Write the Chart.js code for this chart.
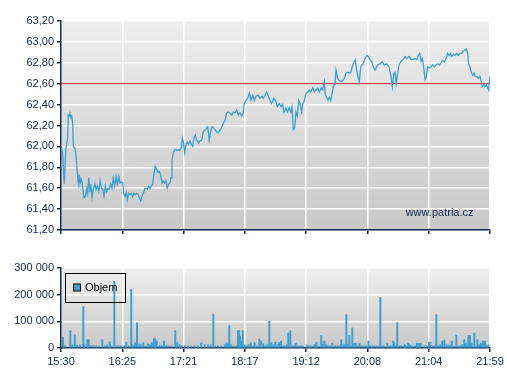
<!DOCTYPE html>
<html>
<head>
<meta charset="utf-8">
<script src="https://cdn.jsdelivr.net/npm/chart.js@4/dist/chart.umd.min.js"></script>
<style>
  html, body { margin: 0; padding: 0; background: #ffffff; }
  #wrap { position: relative; width: 507px; height: 380px; overflow: hidden; }
  #priceCanvas { position: absolute; left: 0; top: 0; }
  #volumeCanvas { position: absolute; left: 0; top: 250px; }
</style>
</head>
<body>
<div id="wrap">
  <canvas id="priceCanvas" width="507" height="248"></canvas>
  <canvas id="volumeCanvas" width="507" height="130"></canvas>
</div>
<script>
// ---- data (minutes since 15:30) ----
const timeLabels = ['15:30', '16:25', '17:21', '18:17', '19:12', '20:08', '21:04', '21:59'];
const sessionMinutes = 390;
const priceTicks = [61.2, 61.4, 61.6, 61.8, 62.0, 62.2, 62.4, 62.6, 62.8, 63.0, 63.2];
const volumeTicks = [0, 100000, 200000, 300000];
const referencePrice = 62.6;
const watermarkText = 'www.patria.cz';
const volumeLabel = 'Objem';

const pricePoints = [
  [0, 62.00], [1.5, 61.93], [3.0, 61.64], [4.3, 61.97], [5.2, 62.03], [6.1, 62.08], [6.6, 62.30], [7.5, 62.29],
  [8.2, 62.32], [9.1, 62.27], [9.7, 62.30], [10.6, 62.22], [11.2, 62.00], [12.7, 61.98], [13.6, 61.92], [14.5, 61.79],
  [15.7, 61.65], [16.6, 61.73], [17.3, 61.64], [18.2, 61.69], [19.4, 61.65], [20.9, 61.51], [22.1, 61.52], [23.4, 61.60],
  [24.3, 61.55], [25.2, 61.70], [26.4, 61.57], [27.0, 61.64], [28.2, 61.51], [29.4, 61.59], [30.9, 61.64], [31.8, 61.59],
  [33.0, 61.62], [34.3, 61.57], [35.5, 61.67], [36.6, 61.60], [37.9, 61.59], [39.1, 61.52], [40.3, 61.62], [41.5, 61.57],
  [42.7, 61.60], [43.9, 61.59], [45.2, 61.64], [46.4, 61.60], [47.5, 61.70], [48.8, 61.62], [50.0, 61.71], [51.2, 61.64],
  [52.5, 61.71], [53.6, 61.65], [54.8, 61.66], [56.1, 61.65], [57.0, 61.55], [58.2, 61.52], [59.4, 61.56], [60.3, 61.49],
  [61.5, 61.55], [62.7, 61.54], [63.9, 61.55], [65.2, 61.52], [66.4, 61.55], [67.5, 61.54], [68.8, 61.55], [70.0, 61.54],
  [71.2, 61.51], [72.5, 61.48], [73.6, 61.52], [74.8, 61.55], [76.1, 61.59], [77.3, 61.60], [78.5, 61.59], [79.7, 61.62],
  [80.9, 61.60], [82.1, 61.62], [83.4, 61.64], [84.5, 61.73], [85.7, 61.81], [87.0, 61.78], [88.2, 61.75], [89.4, 61.76],
  [90.6, 61.73], [91.8, 61.65], [93.0, 61.67], [94.3, 61.65], [95.5, 61.67], [96.6, 61.60], [97.9, 61.64], [99.1, 61.65],
  [100.0, 61.70], [100.9, 61.86], [102.1, 61.94], [103.4, 61.97], [104.5, 61.97], [105.7, 61.96], [107.0, 61.97], [108.2, 61.96],
  [109.4, 61.99], [110.3, 62.08], [111.2, 62.04], [112.5, 61.94], [113.6, 62.02], [114.8, 62.04], [116.1, 62.02], [117.3, 62.05],
  [118.5, 62.02], [119.7, 62.00], [120.9, 62.08], [122.1, 62.11], [123.4, 62.06], [125.2, 62.03], [125.7, 62.05], [127.9, 62.06],
  [129.4, 62.14], [131.5, 62.16], [133.4, 62.19], [134.8, 62.06], [136.4, 62.16], [137.5, 62.19], [139.4, 62.17], [141.5, 62.14],
  [143.0, 62.13], [145.5, 62.17], [147.5, 62.22], [149.1, 62.25], [150.6, 62.32], [152.1, 62.33], [153.6, 62.32], [155.2, 62.30],
  [156.6, 62.33], [158.2, 62.32], [159.7, 62.35], [161.2, 62.30], [162.7, 62.32], [164.3, 62.29], [165.7, 62.32], [166.6, 62.41],
  [168.2, 62.44], [169.7, 62.46], [171.2, 62.51], [172.7, 62.44], [174.3, 62.49], [175.7, 62.44], [177.3, 62.48], [179.4, 62.49],
  [180.9, 62.46], [182.5, 62.48], [183.9, 62.46], [185.5, 62.49], [187.0, 62.52], [188.5, 62.48], [190.0, 62.44], [191.5, 62.41],
  [193.6, 62.46], [195.5, 62.43], [196.6, 62.38], [198.5, 62.41], [200.0, 62.38], [201.5, 62.40], [202.7, 62.33], [204.5, 62.37],
  [205.7, 62.33], [207.5, 62.37], [208.8, 62.33], [210.0, 62.38], [211.2, 62.16], [212.5, 62.18], [213.6, 62.33], [214.8, 62.29],
  [216.1, 62.44], [217.3, 62.41], [218.8, 62.33], [219.7, 62.40], [221.2, 62.44], [222.7, 62.51], [224.3, 62.52], [225.7, 62.54],
  [227.0, 62.52], [228.8, 62.56], [230.3, 62.52], [231.8, 62.54], [233.4, 62.56], [234.8, 62.52], [236.4, 62.56], [237.9, 62.54],
  [239.4, 62.62], [240.3, 62.49], [241.5, 62.47], [242.7, 62.44], [243.9, 62.47], [245.2, 62.44], [246.4, 62.51], [247.5, 62.57],
  [249.1, 62.60], [250.0, 62.73], [251.5, 62.65], [253.0, 62.63], [254.5, 62.62], [256.1, 62.63], [257.5, 62.65], [259.1, 62.70],
  [260.6, 62.71], [262.1, 62.70], [263.6, 62.71], [265.2, 62.78], [266.4, 62.81], [267.5, 62.83], [268.8, 62.73], [270.0, 62.67],
  [271.2, 62.62], [272.5, 62.76], [273.6, 62.78], [274.8, 62.79], [276.4, 62.84], [277.9, 62.87], [279.4, 62.86], [280.9, 62.83],
  [282.5, 62.81], [283.9, 62.76], [285.5, 62.73], [287.9, 62.78], [290.0, 62.79], [292.1, 62.81], [293.9, 62.78], [296.1, 62.79],
  [298.2, 62.76], [300.0, 62.67], [301.2, 62.57], [302.5, 62.70], [303.6, 62.71], [304.8, 62.60], [306.1, 62.70], [307.3, 62.78],
  [309.1, 62.81], [310.9, 62.83], [312.7, 62.86], [314.5, 62.84], [316.4, 62.86], [318.2, 62.83], [320.0, 62.83], [321.8, 62.84],
  [323.4, 62.83], [324.8, 62.87], [326.1, 62.89], [327.3, 62.81], [328.5, 62.84], [329.7, 62.76], [330.9, 62.64], [332.1, 62.67],
  [333.4, 62.76], [334.8, 62.75], [336.4, 62.76], [337.9, 62.78], [339.4, 62.76], [340.9, 62.78], [342.5, 62.79], [343.9, 62.78],
  [345.5, 62.80], [347.0, 62.82], [348.5, 62.81], [350.0, 62.84], [351.5, 62.89], [352.7, 62.87], [353.9, 62.89], [355.2, 62.86],
  [356.6, 62.88], [358.2, 62.87], [359.7, 62.89], [361.2, 62.87], [362.7, 62.89], [364.3, 62.89], [365.7, 62.91], [367.3, 62.92],
  [368.5, 62.93], [369.7, 62.89], [370.6, 62.79], [371.8, 62.76], [373.0, 62.71], [374.3, 62.68], [375.5, 62.70], [376.6, 62.67],
  [377.9, 62.67], [379.4, 62.65], [380.9, 62.67], [382.1, 62.62], [383.0, 62.57], [384.3, 62.59], [385.5, 62.57], [386.6, 62.59],
  [387.9, 62.56], [388.8, 62.54], [389.7, 62.64], [390.0, 62.62]
];

const volumePoints = [
  [1.8, 40000], [3.9, 10000], [8.5, 65000], [10.3, 12000], [12.5, 50000], [14.8, 10000], [17.5, 12000], [20.3, 155000],
  [21.5, 12000], [23.9, 31000], [25.2, 31000], [27.5, 10000], [29.7, 8000], [32.1, 8000], [34.3, 8000], [37.5, 31000],
  [39.7, 8000], [42.1, 12000], [44.3, 23000], [45.7, 8000], [48.5, 250000], [50.3, 8000], [52.5, 8000], [54.8, 8000],
  [57.3, 8000], [59.4, 22000], [61.5, 8000], [63.9, 221000], [65.7, 12000], [67.5, 20000], [69.1, 94000], [71.2, 16000],
  [73.0, 12000], [74.8, 20000], [76.6, 8000], [79.1, 16000], [80.9, 12000], [82.7, 20000], [84.5, 37000], [85.7, 34000],
  [87.0, 26000], [89.7, 10000], [91.8, 8000], [93.6, 26000], [95.7, 10000], [97.9, 8000], [100.3, 8000], [103.9, 65000],
  [105.7, 20000], [107.9, 12000], [110.0, 8000], [112.5, 8000], [115.5, 8000], [118.5, 8000], [121.5, 8000], [124.5, 8000],
  [127.5, 20000], [130.6, 12000], [133.6, 12000], [136.1, 12000], [138.5, 127000], [140.3, 8000], [142.7, 8000], [145.7, 8000],
  [148.8, 12000], [150.6, 20000], [151.8, 16000], [153.0, 84000], [154.8, 12000], [157.0, 8000], [159.1, 8000], [160.9, 65000],
  [161.8, 65000], [162.7, 43000], [163.6, 26000], [165.2, 65000], [167.0, 12000], [168.8, 8000], [170.6, 12000], [172.5, 20000],
  [174.3, 8000], [176.1, 20000], [177.9, 8000], [180.3, 34000], [182.1, 26000], [183.9, 16000], [185.7, 8000], [187.5, 12000],
  [189.4, 102000], [191.2, 20000], [193.0, 12000], [194.8, 22000], [196.9, 12000], [198.2, 20000], [200.0, 26000], [201.8, 8000],
  [203.6, 8000], [205.2, 12000], [206.6, 56000], [208.5, 65000], [210.3, 8000], [212.1, 8000], [213.4, 18000], [215.7, 8000],
  [217.5, 8000], [219.4, 8000], [223.4, 12000], [225.5, 8000], [227.3, 8000], [229.4, 8000], [230.9, 14000], [232.1, 22000],
  [233.9, 8000], [236.6, 47000], [237.9, 14000], [239.4, 26000], [241.2, 12000], [243.0, 8000], [244.8, 8000], [246.6, 18000],
  [249.1, 8000], [251.2, 8000], [253.0, 8000], [254.8, 31000], [256.6, 12000], [258.2, 12000], [259.4, 125000], [260.6, 12000],
  [262.1, 47000], [263.4, 8000], [264.8, 75000], [266.6, 18000], [267.9, 18000], [269.7, 8000], [271.5, 18000], [273.4, 8000],
  [275.7, 8000], [277.5, 8000], [279.4, 26000], [280.9, 8000], [283.0, 8000], [284.8, 8000], [287.0, 8000], [288.5, 8000],
  [290.3, 190000], [292.1, 8000], [293.6, 8000], [296.6, 18000], [298.8, 8000], [300.6, 8000], [302.1, 26000], [303.0, 18000],
  [304.3, 8000], [305.7, 95000], [307.5, 8000], [309.1, 8000], [311.2, 8000], [312.7, 12000], [313.9, 8000], [315.7, 18000],
  [317.3, 12000], [319.4, 8000], [321.8, 8000], [323.6, 18000], [325.5, 18000], [327.0, 18000], [330.3, 8000], [332.5, 8000],
  [334.5, 22000], [335.5, 22000], [337.5, 8000], [339.4, 8000], [341.2, 125000], [343.0, 8000], [344.8, 12000], [346.6, 26000],
  [348.5, 30000], [350.3, 12000], [352.1, 12000], [353.9, 8000], [355.2, 26000], [357.3, 8000], [359.4, 48000], [361.2, 8000],
  [363.0, 8000], [364.8, 12000], [366.6, 31000], [368.2, 18000], [370.3, 47000], [371.8, 47000], [373.4, 18000], [375.7, 56000],
  [377.0, 8000], [378.5, 31000], [380.0, 12000], [381.8, 18000], [383.6, 26000], [385.5, 26000], [387.3, 8000], [388.5, 12000]
];

// ---- styling ----
const NAVY = '#13264f';
const LINE_BLUE = '#3d9fd0';
const BAR_BLUE = '#3d9fcf';
const REF_RED = '#b3201f';
const FONT = { family: '"Liberation Sans", Arial, sans-serif', size: 11 };

Chart.defaults.font.family = FONT.family;
Chart.defaults.font.size = FONT.size;
Chart.defaults.color = NAVY;

const gradientBg = (top, bottom) => ({
  id: 'gradientBg',
  beforeDraw(chart) {
    const a = chart.chartArea, ctx = chart.ctx;
    const g = ctx.createLinearGradient(0, a.top, 0, a.bottom);
    g.addColorStop(0, top);
    g.addColorStop(1, bottom);
    ctx.save();
    ctx.fillStyle = g;
    ctx.fillRect(a.left, a.top, a.right - a.left, a.bottom - a.top);
    ctx.restore();
  }
});

const watermark = {
  id: 'watermark',
  afterDraw(chart) {
    const a = chart.chartArea, ctx = chart.ctx;
    ctx.save();
    ctx.font = '11px "Liberation Sans", Arial, sans-serif';
    ctx.fillStyle = NAVY;
    ctx.textAlign = 'right';
    ctx.textBaseline = 'middle';
    ctx.fillText(watermarkText, a.right - 16.5, a.bottom - 17);
    ctx.restore();
  }
};

const boxLegend = {
  id: 'boxLegend',
  afterDraw(chart) {
    const a = chart.chartArea, ctx = chart.ctx;
    const ds = chart.data.datasets[0];
    const bx = a.left + 4, by = a.top + 5;
    ctx.save();
    ctx.strokeStyle = '#000000';
    ctx.lineWidth = 1;
    ctx.strokeRect(bx + 0.5, by + 0.5, 60, 29);
    ctx.fillStyle = ds.backgroundColor;
    ctx.fillRect(bx + 8.5, by + 11, 7, 7);
    ctx.strokeRect(bx + 8.5, by + 11, 7, 7);
    ctx.font = '11px "Liberation Sans", Arial, sans-serif';
    ctx.fillStyle = '#000000';
    ctx.textAlign = 'left';
    ctx.textBaseline = 'middle';
    ctx.fillText(ds.label, bx + 20, by + 15);
    ctx.restore();
  }
};

const xTickBuilder = (scale) => {
  scale.ticks = timeLabels.map((_, i) => ({ value: i * sessionMinutes / (timeLabels.length - 1) }));
};

function xScale(showLabels, height) {
  return {
    type: 'linear',
    min: 0,
    max: sessionMinutes,
    offset: false,
    afterBuildTicks: xTickBuilder,
    afterFit: (s) => { s.height = height; },
    grid: { color: '#ffffff', lineWidth: 1.5, drawTicks: true, tickLength: 4, tickColor: NAVY, tickWidth: 1.5, offset: false },
    border: { display: true, color: NAVY, width: 1.5 },
    ticks: {
      display: showLabels,
      padding: 3,
      maxRotation: 0,
      autoSkip: false,
      color: NAVY,
      font: FONT,
      callback: (v, i) => timeLabels[i]
    }
  };
}

function yScale(tickValues, fmt) {
  return {
    type: 'linear',
    min: tickValues[0],
    max: tickValues[tickValues.length - 1],
    afterBuildTicks: (s) => { s.ticks = tickValues.map(v => ({ value: v })); },
    afterFit: (s) => { s.width = 61; },
    grid: { color: '#ffffff', lineWidth: 1.5, drawTicks: true, tickLength: 4, tickColor: NAVY, tickWidth: 1.5 },
    border: { display: true, color: NAVY, width: 1.5 },
    ticks: { padding: 3, color: NAVY, font: FONT, autoSkip: false, callback: fmt }
  };
}

// ---- price chart ----
new Chart(document.getElementById('priceCanvas'), {
  type: 'line',
  data: {
    datasets: [
      {
        label: 'Cena',
        data: pricePoints.map(([x, y]) => ({ x, y })),
        borderColor: LINE_BLUE,
        borderWidth: 1.3,
        pointRadius: 0,
        tension: 0,
        order: 1
      },
      {
        label: 'ref',
        data: [{ x: 0, y: referencePrice }, { x: sessionMinutes, y: referencePrice }],
        borderColor: REF_RED,
        borderWidth: 1,
        pointRadius: 0,
        tension: 0,
        order: 2
      }
    ]
  },
  options: {
    responsive: false,
    animation: false,
    devicePixelRatio: 1,
    layout: { padding: { left: 0, right: 17, top: 21, bottom: 0 } },
    plugins: { legend: { display: false }, tooltip: { enabled: false } },
    scales: {
      x: xScale(false, 18),
      y: yScale(priceTicks, (v) => Number(v).toFixed(2).replace('.', ','))
    }
  },
  plugins: [gradientBg('#eeeeee', '#c8c8c8'), watermark]
});

// ---- volume chart ----
new Chart(document.getElementById('volumeCanvas'), {
  type: 'bar',
  data: {
    datasets: [{
      label: volumeLabel,
      data: volumePoints.map(([x, y]) => ({ x, y })),
      backgroundColor: BAR_BLUE,
      borderWidth: 0,
      barThickness: 1.3,
      grouped: false
    }]
  },
  options: {
    responsive: false,
    animation: false,
    devicePixelRatio: 1,
    layout: { padding: { left: 0, right: 17, top: 18, bottom: 0 } },
    plugins: { legend: { display: false }, tooltip: { enabled: false } },
    scales: {
      x: xScale(true, 32),
      y: yScale(volumeTicks, (v) => Number(v).toLocaleString('en-US').replace(/,/g, ' '))
    }
  },
  plugins: [gradientBg('#efefef', '#c9c9c9'), boxLegend]
});
</script>
</body>
</html>
